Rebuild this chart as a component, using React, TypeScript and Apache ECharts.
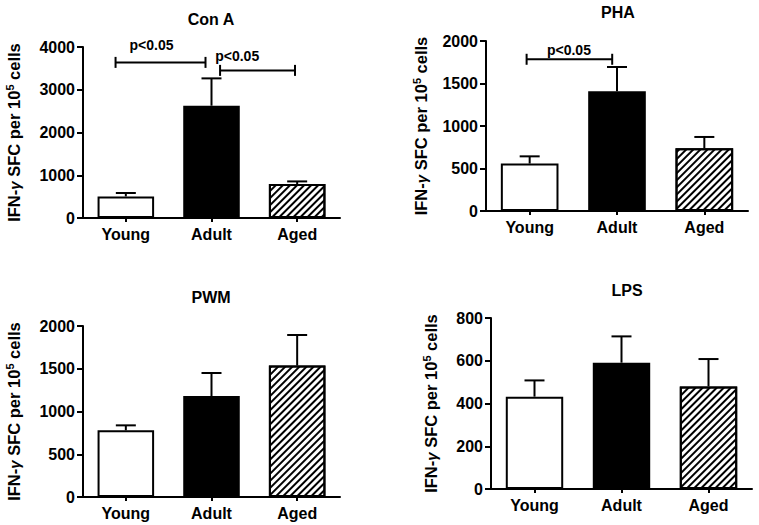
import React, { useEffect, useRef } from "react";
import * as echarts from "echarts";

const categories = ["Young", "Adult", "Aged"];

const conAMean = [505, 2627, 795];
const conAUpper = [585, 3266, 856];
const phaMean = [558, 1408, 738];
const phaUpper = [643, 1694, 871];
const pwmMean = [780, 1181, 1537];
const pwmUpper = [838, 1450, 1895];
const lpsMean = [432, 591, 480];
const lpsUpper = [508, 714, 608];

const conATicks = { max: 4000, interval: 1000 };
const phaTicks = { max: 2000, interval: 500 };
const pwmTicks = { max: 2000, interval: 500 };
const lpsTicks = { max: 800, interval: 200 };

// significance brackets: from/to in category-index units, y in data units
const conABrackets = [
  { from: -0.12, to: 0.93, y: 3640, label: "p<0.05", labelX: 0.3, labelY: 4040 },
  { from: 1.1, to: 1.975, y: 3453, label: "p<0.05", labelX: 1.3, labelY: 3785 },
];
const phaBrackets = [
  { from: -0.035, to: 0.945, y: 1785, label: "p<0.05", labelX: 0.45, labelY: 1900 },
];

const FONT = '"Liberation Sans", Arial, sans-serif';

const panels = [
  { title: "Con A", mean: conAMean, upper: conAUpper, ticks: conATicks, brackets: conABrackets,
    grid: { left: 83, top: 47, width: 257, height: 171 }, nameGap: 59, titlePos: [211, 19] },
  { title: "PHA", mean: phaMean, upper: phaUpper, ticks: phaTicks, brackets: phaBrackets,
    grid: { left: 486, top: 41, width: 262, height: 170 }, nameGap: 55, titlePos: [618, 12] },
  { title: "PWM", mean: pwmMean, upper: pwmUpper, ticks: pwmTicks, brackets: [],
    grid: { left: 83, top: 326, width: 257, height: 171 }, nameGap: 59, titlePos: [211, 297] },
  { title: "LPS", mean: lpsMean, upper: lpsUpper, ticks: lpsTicks, brackets: [],
    grid: { left: 491, top: 318, width: 261, height: 171 }, nameGap: 50, titlePos: [627, 290] },
];

const hatch = {
  symbol: "rect",
  symbolSize: 1,
  dashArrayX: [1, 0],
  dashArrayY: [1.5, 3],
  rotation: -Math.PI / 4,
  color: "#000",
  backgroundColor: "#fff",
};

const barStyles = [
  { color: "#fff", borderColor: "#000", borderWidth: 2 },
  { color: "#000", borderColor: "#000", borderWidth: 2 },
  { color: "#fff", borderColor: "#000", borderWidth: 2, decal: hatch },
];

export default function App() {
  const ref = useRef<HTMLDivElement>(null);
  useEffect(() => {
    if (!ref.current) return;
    const chart = echarts.init(ref.current, null, { renderer: "svg" });
    const grids: any[] = [];
    const xAxes: any[] = [];
    const yAxes: any[] = [];
    const series: any[] = [];
    const graphics: any[] = [];
    panels.forEach((p, i) => {
      grids.push({ ...p.grid, containLabel: false });
      xAxes.push({
        type: "category",
        gridIndex: i,
        data: categories,
        axisLine: { lineStyle: { color: "#000", width: 2 } },
        axisTick: { show: true, alignWithLabel: true, length: 4, lineStyle: { color: "#000", width: 2 } },
        axisLabel: { color: "#000", fontSize: 16, fontWeight: "bold", fontFamily: FONT, margin: 8 },
        splitLine: { show: false },
      });
      yAxes.push({
        type: "value",
        gridIndex: i,
        min: 0,
        max: p.ticks.max,
        interval: p.ticks.interval,
        name: "{t|IFN-}{g|γ}{t| SFC per 10}{s|5}{t| cells}",
        nameLocation: "middle",
        nameGap: p.nameGap,
        nameTextStyle: {
          color: "#000",
          fontFamily: FONT,
          rich: {
            t: { fontSize: 16.5, fontWeight: "bold", fontFamily: FONT, color: "#000", lineHeight: 20 },
            g: { fontSize: 15, fontWeight: "bold", fontStyle: "italic", fontFamily: FONT, color: "#000", lineHeight: 20 },
            s: { fontSize: 11, fontWeight: "bold", fontFamily: FONT, color: "#000", verticalAlign: "top", lineHeight: 11 },
          },
        },
        axisLine: { show: true, lineStyle: { color: "#000", width: 2 } },
        axisTick: { show: true, length: 6, lineStyle: { color: "#000", width: 2 } },
        axisLabel: {
          color: "#000", fontSize: 16, fontWeight: "bold", fontFamily: FONT, margin: 8,
          formatter: (v: number) => String(v),
        },
        splitLine: { show: false },
      });
      series.push({
        type: "bar",
        xAxisIndex: i,
        yAxisIndex: i,
        barWidth: "66%",
        data: p.mean.map((v, k) => ({ value: v, itemStyle: barStyles[k] })),
        z: 2,
      });
      const upper = p.upper;
      const mean = p.mean;
      series.push({
        type: "custom",
        xAxisIndex: i,
        yAxisIndex: i,
        z: 3,
        data: mean.map((m, k) => [k, m, upper[k]]),
        encode: { x: 0, y: [1, 2] },
        renderItem: (params: any, api: any) => {
          const k = params.dataIndex;
          const a = api.coord([k, mean[k]]);
          const b = api.coord([k, upper[k]]);
          const st = { stroke: "#000", lineWidth: 2 };
          return {
            type: "group",
            children: [
              { type: "line", shape: { x1: a[0], y1: a[1], x2: b[0], y2: b[1] }, style: st },
              { type: "line", shape: { x1: b[0] - 10, y1: b[1], x2: b[0] + 10, y2: b[1] }, style: st },
            ],
          };
        },
      });
      if (p.brackets.length) {
        const br = p.brackets;
        series.push({
          type: "custom",
          xAxisIndex: i,
          yAxisIndex: i,
          z: 4,
          data: br.map((b) => [0, b.y]),
          encode: { x: 0, y: 1 },
          renderItem: (params: any, api: any) => {
            const b = br[params.dataIndex];
            const c0 = api.coord([0, b.y]);
            const c1 = api.coord([1, b.y]);
            const band = c1[0] - c0[0];
            const x1 = c0[0] + b.from * band;
            const x2 = c0[0] + b.to * band;
            const y = c0[1];
            const l = api.coord([0, b.labelY]);
            const lx = c0[0] + b.labelX * band;
            const st = { stroke: "#000", lineWidth: 2 };
            return {
              type: "group",
              children: [
                { type: "line", shape: { x1, y1: y, x2, y2: y }, style: st },
                { type: "line", shape: { x1, y1: y - 5.5, x2: x1, y2: y + 5.5 }, style: st },
                { type: "line", shape: { x1: x2, y1: y - 5.5, x2, y2: y + 5.5 }, style: st },
                {
                  type: "text",
                  style: {
                    text: b.label, x: lx, y: l[1],
                    align: "center", verticalAlign: "middle",
                    textAlign: "center", textVerticalAlign: "middle",
                    font: `bold 14px ${FONT}`, fill: "#000",
                  },
                },
              ],
            };
          },
        });
      }
      graphics.push({
        type: "text",
        x: p.titlePos[0],
        y: p.titlePos[1],
        style: {
          text: p.title,
          font: `bold 16px ${FONT}`,
          fill: "#000",
          align: "center",
          verticalAlign: "middle",
          textAlign: "center",
          textVerticalAlign: "middle",
        },
      });
    });
    chart.setOption({
      animation: false,
      backgroundColor: "#fff",
      textStyle: { fontFamily: FONT },
      grid: grids,
      xAxis: xAxes,
      yAxis: yAxes,
      series,
      graphic: graphics,
    });
    return () => chart.dispose();
  }, []);
  return (
    <div
      ref={ref}
      style={{ position: "absolute", left: 0, top: 0, width: 759, height: 525, background: "#fff" }}
    />
  );
}
